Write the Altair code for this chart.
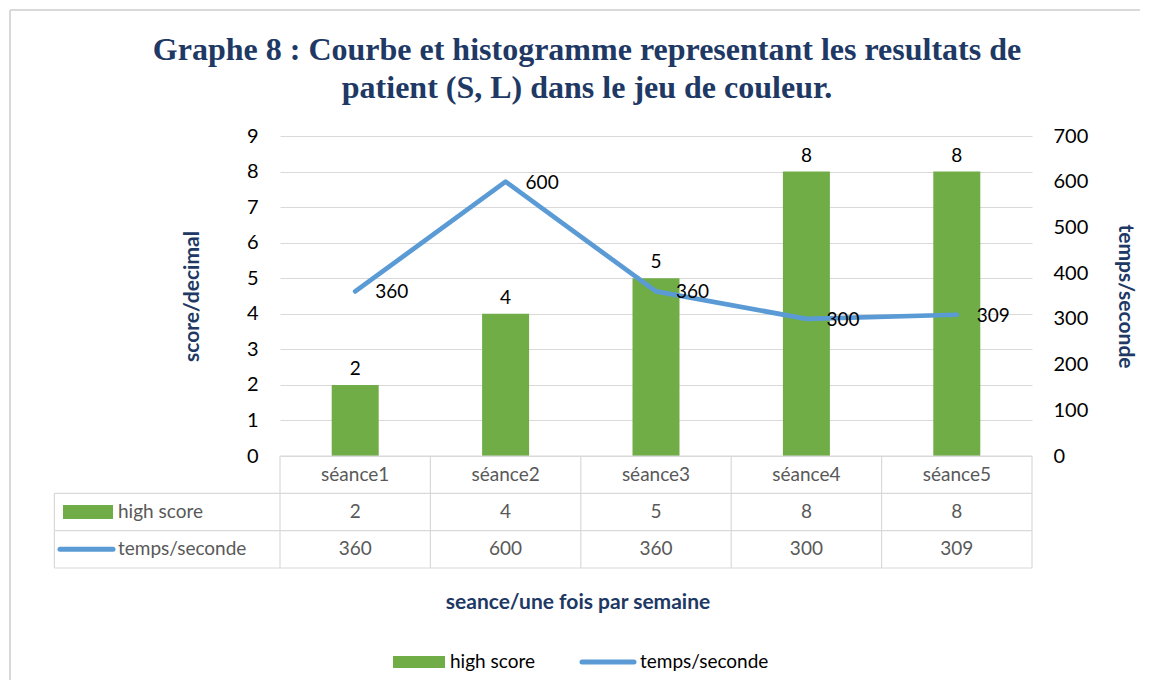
import altair as alt
import pandas as pd

# ---- data ----
categories = ["séance1", "séance2", "séance3", "séance4", "séance5"]
high_score = [2, 4, 5, 8, 8]
temps = [360, 600, 360, 300, 309]
series_names = ["high score", "temps/seconde"]
left_ticks = [0, 1, 2, 3, 4, 5, 6, 7, 8, 9]
right_ticks = [0, 100, 200, 300, 400, 500, 600, 700]
title_text = ("Graphe 8 : Courbe et histogramme representant les resultats de\n"
              "patient (S, L) dans le jeu de couleur.")
x_title = "seance/une fois par semaine"

GREEN = "#70AD47"
BLUE = "#5B9BD5"
NAVY = "#203864"
GRID = "#D9D9D9"
FRAME = "#D9D9D9"
TXT = "#595959"
FONT = "Lato"
FS = 19
AFS = 20

W, H = 752, 320
TH = 112

df = pd.DataFrame({"seance": categories, "score": high_score, "temps": temps})

xenc = alt.X("seance:N", sort=categories,
             scale=alt.Scale(domain=categories, paddingInner=0, paddingOuter=0),
             axis=None)

yl = alt.Y("score:Q", scale=alt.Scale(domain=[0, 9], nice=False),
           axis=alt.Axis(values=left_ticks, title="score/decimal", grid=True,
                         gridColor=GRID, gridWidth=1.2, domain=False, ticks=False,
                         labelOverlap=False, labelPadding=22, titlePadding=44,
                         labelFontSize=AFS, labelColor="#000000", titleFontSize=21,
                         titleColor=NAVY, titleFontWeight="bold"))

bars = alt.Chart(df).mark_bar(color=GREEN, size=47).encode(x=xenc, y=yl)
bar_labels = alt.Chart(df).mark_text(dy=-16, fontSize=FS, font=FONT, color="#000000").encode(
    x=xenc, y=yl, text="score:Q")
left_layer = alt.layer(bars, bar_labels)

yr = alt.Y("temps:Q", scale=alt.Scale(domain=[0, 700], nice=False),
           axis=alt.Axis(orient="right", values=right_ticks, title="temps/seconde",
                         grid=False, domain=False, ticks=False, labelAlign="left",
                         labelOverlap=False, labelPadding=21, titlePadding=27,
                         labelFontSize=AFS, labelColor="#000000", titleFontSize=21,
                         titleColor=NAVY, titleFontWeight="bold"))
line = alt.Chart(df).mark_line(color=BLUE, strokeWidth=4.7, strokeCap="round",
                               strokeJoin="round").encode(x=xenc, y=yr)
line_labels = alt.Chart(df).mark_text(align="left", dx=20, dy=1, fontSize=FS, font=FONT,
                                      color="#000000").encode(
    x=xenc, y=yr, text="temps:Q")
right_layer = alt.layer(line, line_labels)

# chart title and the light frame of the chart area
t_df = pd.DataFrame({"t": [title_text]})
title_mark = alt.Chart(t_df).mark_text(font="Liberation Serif", fontSize=32, fontWeight="bold",
                                       color=NAVY, lineHeight=38, lineBreak="\n",
                                       baseline="middle").encode(
    x=alt.value(307), y=alt.value(-86), text="t:N")
frame_left = alt.Chart(t_df).mark_rule(color=FRAME, strokeWidth=2, clip=False).encode(
    x=alt.value(-270), y=alt.value(-126), y2=alt.value(544))
frame_top = alt.Chart(t_df).mark_rule(color=FRAME, strokeWidth=2, clip=False).encode(
    x=alt.value(-270), x2=alt.value(860), y=alt.value(-126))
deco = alt.layer(title_mark, frame_left, frame_top)

top = alt.layer(left_layer, right_layer, deco).resolve_scale(y="independent").properties(
    width=W, height=H)

# ---- data table under the plot ----
n = len(categories)
cells = []
for i, c in enumerate(categories):
    cells.append({"col": i + 0.5, "row": 0.5, "txt": c})
    cells.append({"col": i + 0.5, "row": 1.5, "txt": str(high_score[i])})
    cells.append({"col": i + 0.5, "row": 2.5, "txt": str(temps[i])})
cells_df = pd.DataFrame(cells)

HDR = -1.5  # header column width, in category widths
hlines = pd.DataFrame({"y": [0, 1, 2, 3], "x0": [0, HDR, HDR, HDR], "x1": [n, n, n, n]})
vlines = pd.DataFrame({"x": [HDR] + list(range(n + 1)),
                       "y0": [1] + [0] * (n + 1), "y1": [3] * (n + 2)})

tx = alt.Scale(domain=[0, n], nice=False)
ty = alt.Scale(domain=[0, 3], reverse=True, nice=False)

h_rules = alt.Chart(hlines).mark_rule(color=GRID, strokeWidth=1.2, clip=False).encode(
    x=alt.X("x0:Q", scale=tx, axis=None), x2="x1:Q",
    y=alt.Y("y:Q", scale=ty, axis=None))
v_rules = alt.Chart(vlines).mark_rule(color=GRID, strokeWidth=1.2, clip=False).encode(
    x=alt.X("x:Q", scale=tx, axis=None),
    y=alt.Y("y0:Q", scale=ty, axis=None), y2="y1:Q")
cell_text = alt.Chart(cells_df).mark_text(fontSize=FS, font=FONT, color=TXT).encode(
    x=alt.X("col:Q", scale=tx, axis=None),
    y=alt.Y("row:Q", scale=ty, axis=None), text="txt:N")

rows_df = pd.DataFrame({"row": [1.5, 2.5], "label": series_names})
row_text = alt.Chart(rows_df).mark_text(align="left", fontSize=FS, font=FONT, color=TXT).encode(
    x=alt.value(-162), y=alt.Y("row:Q", scale=ty, axis=None), text="label:N")
key_green = alt.Chart(rows_df).transform_filter(alt.datum.label == series_names[0]).mark_rule(
    color=GREEN, strokeWidth=14, strokeCap="butt").encode(
    x=alt.value(-217), x2=alt.value(-167), y=alt.Y("row:Q", scale=ty, axis=None))
key_blue = alt.Chart(rows_df).transform_filter(alt.datum.label == series_names[1]).mark_rule(
    color=BLUE, strokeWidth=5, strokeCap="round").encode(
    x=alt.value(-220), x2=alt.value(-167), y=alt.Y("row:Q", scale=ty, axis=None))

# axis title under the table
xt_df = pd.DataFrame({"t": [x_title]})
x_title_mark = alt.Chart(xt_df).mark_text(fontSize=21, font=FONT, fontWeight="bold",
                                          color=NAVY).encode(
    x=alt.value(298), y=alt.value(147), text="t:N")

# legend at the bottom
leg_df = pd.DataFrame({"label": series_names})
leg_green = alt.Chart(leg_df).transform_filter(alt.datum.label == series_names[0]).mark_rule(
    color=GREEN, strokeWidth=12, strokeCap="butt").encode(
    x=alt.value(113), x2=alt.value(165), y=alt.value(206))
leg_green_t = alt.Chart(leg_df).transform_filter(alt.datum.label == series_names[0]).mark_text(
    align="left", fontSize=FS, font=FONT, color="#000000").encode(
    x=alt.value(170), y=alt.value(206), text="label:N")
leg_blue = alt.Chart(leg_df).transform_filter(alt.datum.label == series_names[1]).mark_rule(
    color=BLUE, strokeWidth=5, strokeCap="round").encode(
    x=alt.value(302), x2=alt.value(354), y=alt.value(206))
leg_blue_t = alt.Chart(leg_df).transform_filter(alt.datum.label == series_names[1]).mark_text(
    align="left", fontSize=FS, font=FONT, color="#000000").encode(
    x=alt.value(360), y=alt.value(206), text="label:N")

table = alt.layer(h_rules, v_rules, cell_text, row_text, key_green, key_blue,
                  x_title_mark, leg_green, leg_green_t, leg_blue, leg_blue_t).properties(
    width=W, height=TH)

chart = alt.vconcat(top, table, spacing=0, bounds="flush").resolve_scale(
    x="independent", y="independent").properties(
    padding={"left": 1, "top": 1, "right": 0, "bottom": 0},
).configure_view(stroke=None).configure_axis(labelFont=FONT, titleFont=FONT)

chart.save("out.html", embed_options={"renderer": "svg", "actions": False})
